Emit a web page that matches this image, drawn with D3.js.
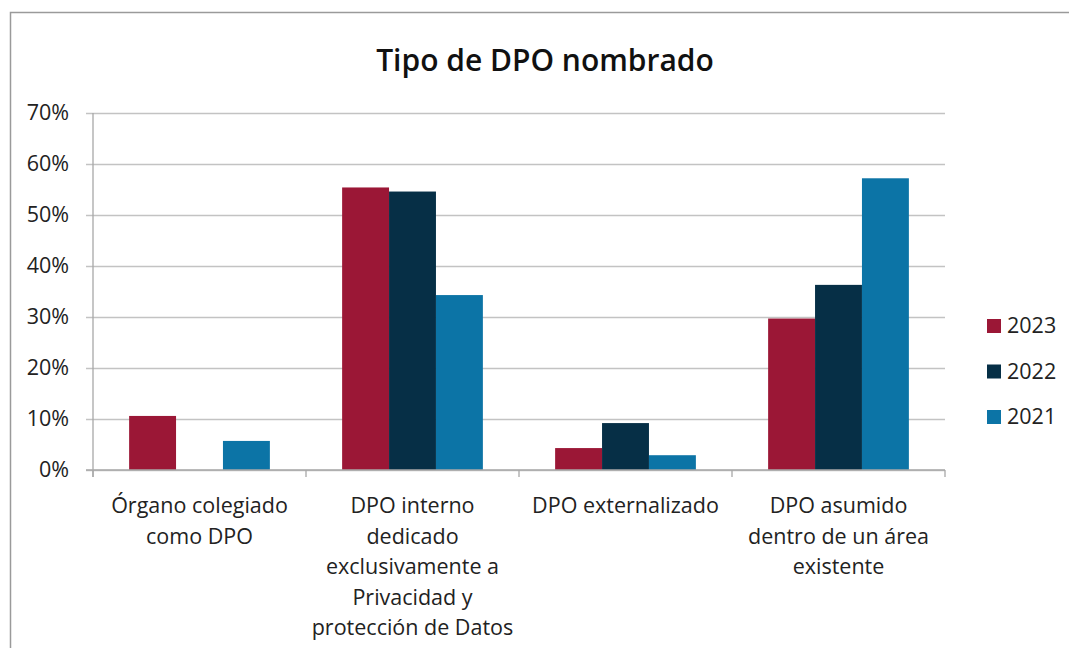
<!DOCTYPE html>
<html>
<head>
<meta charset="utf-8">
<script src="https://cdn.jsdelivr.net/npm/d3@7"></script>
<style>
  html, body { margin: 0; padding: 0; background: #fff; }
  svg { display: block; }
</style>
</head>
<body>
<svg id="chart"></svg>
<script>
"use strict";

// data
const categories = [
    ["Órgano colegiado", "como DPO"],
    ["DPO interno", "dedicado", "exclusivamente a", "Privacidad y", "protección de Datos"],
    ["DPO externalizado"],
    ["DPO asumido", "dentro de un área", "existente"],
];
const seriesNames = ["2023", "2022", "2021"];
const values2023 = [10.6, 55.4, 4.3, 29.7];
const values2022 = [0, 54.6, 9.2, 36.3];
const values2021 = [5.7, 34.3, 2.9, 57.2];
const seriesColors = ["#9b1736", "#062f46", "#0c74a6"];
const yTicks = [0, 10, 20, 30, 40, 50, 60, 70];

const width = 1069;
const height = 648;
const margin = { top: 113, right: 124, bottom: 178, left: 93 };
const FONT = "'Open Sans', sans-serif";
const FONT_SIZE = 21.5;

const series = [values2023, values2022, values2021];
const rows = categories.map((c, i) => ({
    key: i,
    vals: seriesNames.map((s, j) => ({ name: s, value: series[j][i] })),
}));

const svg = d3.select("#chart")
    .attr("width", width)
    .attr("height", height);

// outer frame (only the top and left edges are visible in the crop)
svg.append("path")
    .attr("d", `M10.5,${height} L10.5,12.5 L${width},12.5`)
    .attr("fill", "none")
    .attr("stroke", "#9a9a9a")
    .attr("stroke-width", 1.5);

const x0 = d3.scaleBand()
    .domain(rows.map(d => d.key))
    .range([margin.left, width - margin.right])
    .padding(0);

const x1 = d3.scaleBand()
    .domain(seriesNames)
    .range([0, x0.bandwidth()])
    .paddingInner(0)
    .paddingOuter(0.77);

const y = d3.scaleLinear()
    .domain([0, 70])
    .range([height - margin.bottom, margin.top]);

const color = d3.scaleOrdinal(seriesNames, seriesColors);

// gridlines + y tick labels
const yAxis = svg.append("g")
    .attr("transform", `translate(${margin.left},0)`)
    .call(d3.axisLeft(y)
        .tickValues(yTicks)
        .tickSize(-(width - margin.right - margin.left))
        .tickSizeOuter(0)
        .tickPadding(24)
        .tickFormat(d => d + "%"));
yAxis.select(".domain").remove();
yAxis.selectAll(".tick line")
    .attr("x1", -7)
    .attr("stroke", "#c3c3c3")
    .attr("stroke-width", 1.3);
yAxis.selectAll(".tick text")
    .attr("font-family", FONT)
    .attr("font-size", FONT_SIZE)
    .attr("fill", "#222");

// y axis line
svg.append("line")
    .attr("x1", margin.left).attr("x2", margin.left)
    .attr("y1", y(70)).attr("y2", y(0) + 7)
    .attr("stroke", "#a8a8a8")
    .attr("stroke-width", 1.3);

// bars
svg.append("g").selectAll("g")
    .data(rows)
    .join("g")
    .attr("transform", d => `translate(${x0(d.key)},0)`)
    .selectAll("rect")
    .data(d => d.vals.filter(v => v.value > 0))
    .join("rect")
    .attr("x", d => x1(d.name))
    .attr("width", x1.bandwidth())
    .attr("y", d => y(d.value))
    .attr("height", d => y(0) - y(d.value))
    .attr("fill", d => color(d.name));

// x axis baseline and category ticks
const xAxis = svg.append("g")
    .attr("transform", `translate(0,${y(0)})`);
xAxis.append("line")
    .attr("x1", margin.left - 7).attr("x2", width - margin.right)
    .attr("stroke", "#a8a8a8")
    .attr("stroke-width", 1.3);
xAxis.selectAll(".cat-tick")
    .data(d3.range(categories.length + 1))
    .join("line")
    .attr("class", "cat-tick")
    .attr("x1", i => i < categories.length ? x0(i) : x0(i - 1) + x0.bandwidth())
    .attr("x2", i => i < categories.length ? x0(i) : x0(i - 1) + x0.bandwidth())
    .attr("y1", 0).attr("y2", 7)
    .attr("stroke", "#a8a8a8")
    .attr("stroke-width", 1.3);

// category labels
xAxis.selectAll(".cat-label")
    .data(rows)
    .join("text")
    .attr("class", "cat-label")
    .attr("font-family", FONT)
    .attr("font-size", FONT_SIZE)
    .attr("fill", "#222")
    .attr("text-anchor", "middle")
    .selectAll("tspan")
    .data(d => categories[d.key].map(line => ({ line, key: d.key })))
    .join("tspan")
    .attr("x", d => x0(d.key) + x0.bandwidth() / 2)
    .attr("y", (d, i) => 43 + i * 30.5)
    .text(d => d.line);

// title
svg.append("text")
    .attr("x", 545)
    .attr("y", 71)
    .attr("text-anchor", "middle")
    .attr("font-family", "'Open Sans', sans-serif")
    .attr("font-weight", 600)
    .attr("font-size", 30)
    .attr("fill", "#111")
    .text("Tipo de DPO nombrado");

// legend
const legend = svg.append("g")
    .attr("transform", "translate(987,319)");
const item = legend.selectAll("g")
    .data(seriesNames)
    .join("g")
    .attr("transform", (d, i) => `translate(0,${i * 45.5})`);
item.append("rect")
    .attr("width", 14)
    .attr("height", 14)
    .attr("fill", d => color(d));
item.append("text")
    .attr("x", 20)
    .attr("y", 14)
    .attr("font-family", FONT)
    .attr("font-size", FONT_SIZE)
    .attr("fill", "#222")
    .text(d => d);
</script>
</body>
</html>
